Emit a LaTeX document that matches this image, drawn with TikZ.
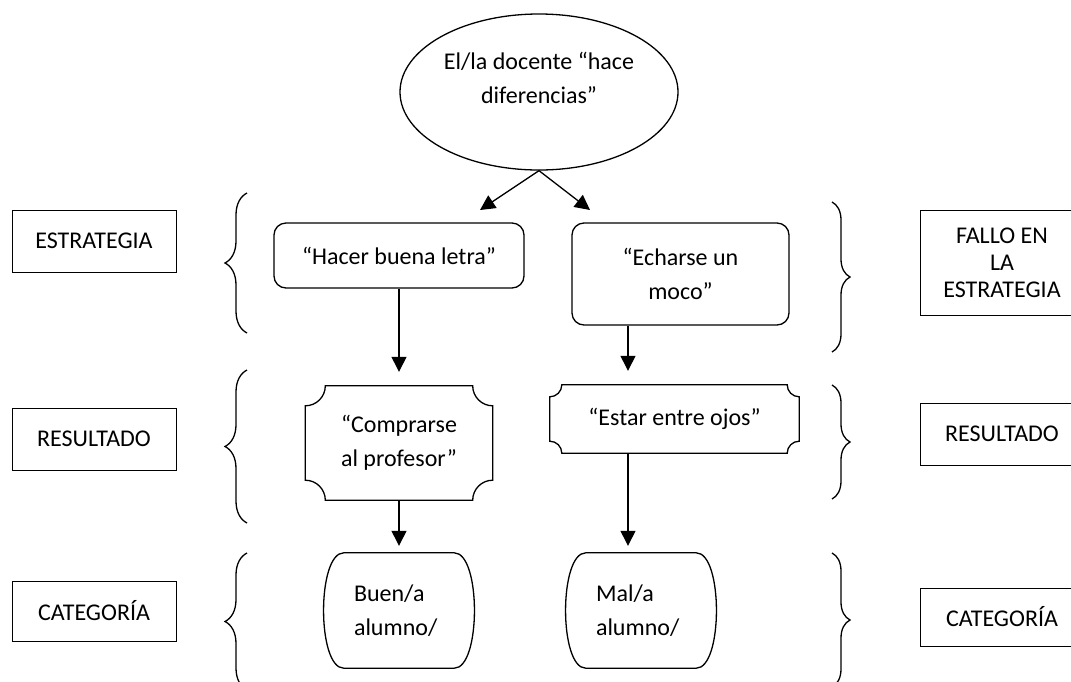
\documentclass[tikz,border=0pt]{standalone}
\usepackage{fontspec}
\setmainfont{Carlito}
\usepackage{tikz}
\usetikzlibrary{arrows.meta,shapes.geometric,decorations.pathreplacing}
\tikzset{every node/.style={font=\fontsize{24}{34}\selectfont},
    tag box/.style={draw,line width=1pt,minimum width=164pt,minimum height=62pt,inner sep=0pt,align=center},
    round box/.style={draw,line width=1.3pt,rounded corners=12pt,inner sep=0pt,align=center},
    bare box/.style={inner sep=0pt,align=center},
    link/.style={line width=1.3pt,-{Triangle[length=15pt,width=15pt]}},
    curly/.style={line width=1.3pt,decorate,decoration={brace,amplitude=#1}},
    edge line/.style={line width=1.3pt}}
% caja con esquinas hundidas
\newcommand{\plaque}[2]{%
    \draw[edge line] ([xshift=#2]#1.north west) -- ([xshift=-#2]#1.north east)
        arc[start angle=180,end angle=270,radius=#2]
        -- ([yshift=#2]#1.south east)
        arc[start angle=90,end angle=180,radius=#2]
        -- ([xshift=#2]#1.south west)
        arc[start angle=0,end angle=90,radius=#2]
        -- ([yshift=-#2]#1.north west)
        arc[start angle=270,end angle=360,radius=#2] -- cycle;}
% caja con lados curvos
\newcommand{\barrel}[1]{%
    \draw[edge line] (#1.north west) -- (#1.north east)
        .. controls +(27,0) and +(27,0) .. (#1.south east)
        -- (#1.south west)
        .. controls +(-27,0) and +(-27,0) .. (#1.north west) -- cycle;}

\begin{document}
\begin{tikzpicture}[x=1pt,y=1pt]
\useasboundingbox[fill=white] (0,0) rectangle (1071,-681);

\node[draw,line width=1.3pt,ellipse,minimum width=278pt,minimum height=156pt] (docente) at (539,-92) {};
\node[bare box] (docente text) at ([yshift=14pt]docente.center) {El/la docente “hace\\diferencias”};
\coordinate (lt) at (480,-210);
\coordinate (rt) at (590,-210);

\node[round box,minimum width=250pt,minimum height=65pt] (hacer) at (399,-255.5) {“Hacer buena letra”};
\node[round box,minimum width=217pt,minimum height=102pt] (echar) at (680.5,-274) {“Echarse un\\moco”};

\node[bare box,minimum width=187pt,minimum height=114pt] (compr) at (399,-443) {“Comprarse\\al profesor”};
\node[bare box,minimum width=249pt,minimum height=68pt] (estar) at (674.5,-419) {“Estar entre ojos”};
\plaque{compr}{20pt}
\plaque{estar}{12pt}

\node[bare box,minimum width=110pt,minimum height=115pt,text width=90pt,align=left] (buen) at (399,-610.5) {Buen/a\\alumno/};
\node[bare box,minimum width=110pt,minimum height=115pt,text width=90pt,align=left] (mal) at (641,-610.5) {Mal/a\\alumno/};
\barrel{buen}
\barrel{mal}

\draw[link] (docente.south) -- (lt);
\draw[link] (docente.south) -- (rt);
\draw[link,shorten >=14pt] (hacer.south) -- (compr.north);
\draw[link,shorten >=14pt] ([xshift=-52.5pt]echar.south) -- ([xshift=-52.5pt]echar.south |- estar.north);
\draw[link,shorten >=7pt] (compr.south) -- (buen.north);
\draw[link,shorten >=7pt] ([xshift=-46.5pt]estar.south) -- ([xshift=-46.5pt]estar.south |- mal.north);

\node[tag box] (lest) at (94,-241) {ESTRATEGIA};
\node[tag box] (lres) at (94,-439) {RESULTADO};
\node[tag box,minimum height=60pt] (lcat) at (94,-611) {CATEGORÍA};

\node[tag box,minimum height=105pt,font=\fontsize{24}{27}\selectfont] (rfal) at (1002,-262.5) {FALLO EN\\LA\\ESTRATEGIA};
\node[tag box] (rres) at (1002,-434) {RESULTADO};
\node[tag box,minimum height=58pt] (rcat) at (1002,-617) {CATEGORÍA};

\draw[curly=22pt] (247,-333) -- (247,-193);
\draw[curly=22pt] (247,-523) -- (247,-370);
\draw[curly=22pt] (247,-690) -- (247,-553);
\draw[curly=18pt] (832,-202) -- (832,-352);
\draw[curly=18pt] (832,-385) -- (832,-499);
\draw[curly=18pt] (832,-553) -- (832,-687);
\end{tikzpicture}
\end{document}
